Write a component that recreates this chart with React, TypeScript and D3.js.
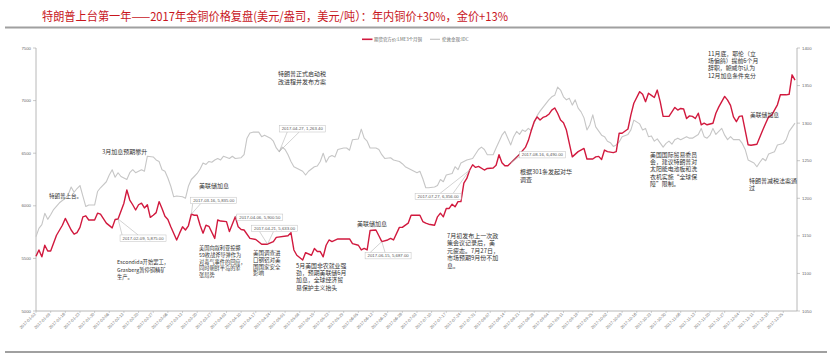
import React from "react";
import * as d3 from "d3";

const W = 831;
const H = 361;

const title = "特朗普上台第一年——2017年金铜价格复盘(美元/盎司，美元/吨）：年内铜价+30%，金价+13%";
const legendNames = ["期货官方价:LME3个月铜", "伦敦金现:IDC"];

// x: trading-day (weekday) index of 2017, 0 = 2017-01-02, 259 = 2017-12-29
const tickLabels = [
  "2017-01-02","2017-01-09","2017-01-16","2017-01-23","2017-01-30","2017-02-06","2017-02-13","2017-02-20","2017-02-27",
  "2017-03-06","2017-03-13","2017-03-20","2017-03-27","2017-04-03","2017-04-10","2017-04-17","2017-04-24","2017-05-01",
  "2017-05-08","2017-05-15","2017-05-22","2017-05-29","2017-06-05","2017-06-12","2017-06-19","2017-06-26","2017-07-03",
  "2017-07-10","2017-07-17","2017-07-24","2017-07-31","2017-08-07","2017-08-14","2017-08-21","2017-08-28","2017-09-04",
  "2017-09-11","2017-09-18","2017-09-25","2017-10-02","2017-10-09","2017-10-16","2017-10-23","2017-10-30","2017-11-06",
  "2017-11-13","2017-11-20","2017-11-27","2017-12-04","2017-12-11","2017-12-18","2017-12-25",
];
const leftTicks = [5000, 5500, 6000, 6500, 7000, 7500];
const rightTicks = [1050, 1100, 1150, 1200, 1250, 1300, 1350, 1400];

const copper: [number, number][] = [
  [0,5520],[1,5580],[2,5515],[3,5625],[4,5570],[5,5570],[7,5720],[9,5815],[10,5880],[12,5770],[13,5730],[14,5745],
  [15,5795],[16,5895],[17,5905],[18,5865],[20,5865],[21,5930],[22,5920],[24,5835],[26,5790],[27,5870],[28,5875],
  [30,6025],[31,6150],[32,6055],[33,6010],[34,5960],[35,6010],[36,6025],[37,5980],[38,6010],[39,5890],[40,5910],
  [41,5935],[42,6040],[43,5975],[44,5900],[45,5870],[46,5800],[48,5675],[49,5740],[50,5800],[51,5770],[52,5810],
  [53,5920],[54,5910],[55,5910],[56,5815],[57,5740],[58,5815],[59,5805],[61,5690],[62,5865],[63,5855],[65,5850],
  [66,5755],[68,5895],[69,5800],[70,5775],[71,5770],[73,5690],[75,5680],[77,5635],[79,5635],[81,5660],[82,5700],
  [86,5715],[87,5745],[88,5580],[89,5530],[91,5485],[92,5555],[94,5530],[95,5595],[96,5565],[97,5565],[98,5515],
  [99,5625],[100,5675],[101,5660],[103,5685],[107,5685],[108,5640],[110,5625],[111,5580],[112,5595],[113,5580],
  [114,5765],[116,5770],[117,5715],[118,5660],[120,5675],[121,5690],[122,5675],[124,5795],[125,5795],[127,5835],
  [128,5910],[131,5910],[132,5850],[133,5835],[134,5825],[136,5815],[137,5895],[138,5930],[139,5895],[140,5975],
  [141,5975],[142,6015],[143,5990],[144,6040],[145,6040],[146,6215],[147,6260],[148,6340],[149,6390],[150,6365],
  [151,6375],[153,6340],[154,6355],[156,6360],[157,6385],[158,6485],[159,6410],[160,6380],[161,6380],[163,6435],
  [165,6490],[167,6555],[168,6620],[169,6715],[170,6800],[171,6845],[172,6815],[173,6840],[174,6850],[175,6870],
  [176,6910],[177,6930],[178,6880],[179,6815],[180,6790],[181,6720],[183,6465],[185,6515],[187,6545],[188,6445],
  [190,6445],[191,6465],[192,6470],[193,6440],[194,6530],[195,6515],[197,6505],[198,6515],[199,6690],[200,6690],
  [202,6730],[203,6865],[204,6975],[206,7085],[207,7060],[208,6990],[209,7070],[210,7050],[211,7030],[212,7100],
  [213,6990],[214,6850],[216,6850],[218,6935],[219,6910],[220,6925],[221,6920],[222,6830],[223,6855],[224,6850],
  [225,6830],[226,6880],[227,6770],[228,6785],[229,6770],[231,6785],[232,6880],[233,6940],[235,7040],[236,7005],
  [237,6955],[238,6845],[239,6800],[240,6850],[241,6855],[243,6580],[244,6575],[246,6585],[248,6720],[249,6785],
  [250,6845],[251,6860],[253,6960],[254,7055],[256,7055],[257,7060],[258,7245],[259,7195],
];

const gold: [number, number][] = [
  [0,1149],[1,1160],[2,1165],[3,1180],[4,1172],[5,1178],[6,1185],[8,1194],[10,1200],[11,1205],[12,1215],[13,1208],
  [14,1213],[15,1217],[16,1203],[17,1189],[18,1191],[20,1191],[21,1209],[22,1214],[24,1222],[25,1231],[26,1238],
  [27,1228],[28,1234],[29,1229],[31,1225],[32,1234],[33,1238],[34,1234],[36,1238],[37,1236],[38,1256],[40,1255],
  [41,1251],[42,1249],[43,1238],[44,1236],[45,1227],[46,1216],[47,1202],[48,1203],[50,1202],[51,1200],[52,1216],
  [53,1225],[54,1229],[55,1233],[56,1239],[57,1247],[58,1245],[59,1249],[60,1248],[61,1251],[62,1253],[63,1251],
  [64,1256],[66,1253],[67,1256],[68,1253],[70,1254],[71,1258],[72,1280],[73,1287],[74,1288],[76,1288],[77,1282],
  [78,1284],[80,1280],[81,1276],[82,1267],[83,1262],[84,1268],[85,1265],[86,1258],[87,1249],[88,1242],[89,1240],
  [90,1238],[91,1236],[92,1231],[93,1236],[95,1242],[96,1243],[97,1249],[98,1260],[99,1248],[100,1255],[101,1257],
  [102,1255],[103,1265],[105,1267],[106,1267],[107,1264],[108,1278],[110,1279],[111,1292],[112,1280],[113,1276],
  [114,1267],[116,1267],[117,1265],[118,1258],[119,1253],[121,1254],[122,1251],[124,1249],[125,1246],[126,1242],
  [127,1240],[129,1236],[130,1234],[131,1236],[132,1226],[133,1214],[134,1214],[136,1215],[137,1217],[138,1225],
  [139,1222],[140,1231],[142,1233],[143,1242],[144,1238],[145,1247],[147,1251],[149,1253],[150,1259],[151,1265],
  [152,1268],[153,1265],[154,1258],[156,1258],[157,1267],[159,1284],[160,1289],[161,1280],[162,1271],[163,1282],
  [164,1289],[165,1285],[166,1291],[167,1289],[168,1293],[169,1290],[170,1300],[171,1310],[172,1316],[174,1326],
  [175,1331],[176,1335],[177,1337],[178,1348],[179,1344],[180,1335],[181,1331],[182,1333],[183,1324],[184,1331],
  [185,1320],[186,1315],[187,1307],[188,1291],[189,1298],[190,1311],[191,1295],[193,1284],[194,1282],[195,1276],
  [196,1274],[197,1269],[198,1271],[199,1275],[200,1282],[202,1285],[203,1291],[204,1304],[206,1299],[207,1291],
  [208,1293],[209,1282],[210,1283],[211,1276],[212,1279],[214,1268],[215,1273],[216,1276],[217,1272],[218,1278],
  [219,1280],[220,1278],[222,1282],[223,1280],[224,1280],[226,1285],[227,1293],[228,1282],[229,1280],[230,1284],
  [231,1293],[232,1285],[233,1289],[234,1293],[235,1284],[236,1278],[237,1282],[238,1278],[240,1278],[241,1273],
  [242,1265],[243,1251],[245,1247],[246,1242],[247,1248],[248,1253],[249,1250],[250,1259],[252,1262],[253,1271],
  [255,1273],[256,1278],[257,1289],[259,1300],
];

// data callouts: trading-day index, series, label
const callouts = [
  { day: 28, s: "copper", label: "2017-02-09, 5,875.00", dx: 2, dy: 16, side: "top", a1: 2, a2: 18 },
  { day: 53, s: "copper", label: "2017-03-16, 5,835.00", dx: -0.6, dy: -17, side: "bottom", a1: 2, a2: 10 },
  { day: 68, s: "copper", label: "2017-04-06, 5,900.50", dx: 1.5, dy: -2.8, side: "left", a1: 1, a2: 5 },
  { day: 79, s: "copper", label: "2017-04-21, 5,633.00", dx: -16, dy: -19, side: "bottom", a1: 8, a2: 22 },
  { day: 83, s: "gold", label: "2017-04-27, 1,263.40", dx: 0, dy: -26, side: "bottom", a1: 8, a2: 20 },
  { day: 118, s: "copper", label: "2017-06-15, 5,687.00", dx: -16.7, dy: 11, side: "top", a1: 5, a2: 20 },
  { day: 148, s: "copper", label: "2017-07-27, 6,356.00", dx: -54.6, dy: 23.3, side: "top", a1: 25, a2: 38 },
  { day: 162, s: "copper", label: "2017-08-16, 6,490.00", dx: 8.6, dy: -11.3, side: "left", a1: 2, a2: 5 },
];

const notes = [
  { lines: ["特朗普上台。"], x: 49, y: 196, lh: 7.3, fs: 5.5 },
  { lines: ["3月加息预期攀升"], x: 102, y: 151, lh: 7.3, fs: 6 },
  { lines: ["美联储加息"], x: 199, y: 185, lh: 7.3, fs: 6 },
  { lines: ["特朗普正式启动税", "改进程并发布方案"], x: 278, y: 73.7, lh: 7.6, fs: 6 },
  { lines: ["Escondida开始罢工，", "Grasberg暂停铜精矿", "生产。"], x: 117, y: 262, lh: 7.6, fs: 5.3 },
  { lines: ["美国向叙利亚投掷", "59枚战斧导弹作为", "对毒气事件的回应，", "同时朝鲜半岛的紧", "张局势"], x: 199, y: 247.7, lh: 6.7, fs: 5.2 },
  { lines: ["美国调查进", "口钢铝对美", "国国家安全", "影响"], x: 253, y: 253.3, lh: 6.7, fs: 5.5 },
  { lines: ["5月美国非农就业强", "劲，预期美联储6月", "加息，全球经济贸", "易保护主义抬头"], x: 296, y: 265, lh: 7.4, fs: 5.9 },
  { lines: ["美联储加息"], x: 357, y: 223, lh: 7.3, fs: 6 },
  { lines: ["7月初发布上一次政", "策会议记录后，美", "元疲态。7月27日，", "市场预期9月份不加", "息。"], x: 447, y: 235, lh: 7.5, fs: 6 },
  { lines: ["根据301条发起对华", "调查"], x: 520, y: 171.7, lh: 7.6, fs: 6 },
  { lines: ["美国国际贸易委员", "会，建议特朗普对", "太阳能电池板和洗", "衣机实施“全球保", "障”限制。"], x: 650, y: 154, lh: 7.4, fs: 5.9 },
  { lines: ["11月底，耶伦（立", "场偏鸽）提前6个月", "辞职，鲍威尔认为", "12月加息条件充分"], x: 708, y: 53, lh: 7.4, fs: 5.9 },
  { lines: ["美联储加息"], x: 750, y: 114, lh: 7.3, fs: 5.8 },
  { lines: ["特朗普减税法案通", "过"], x: 749, y: 180, lh: 7.6, fs: 6 },
];

const RED = "#d1193e";
const GRAY_LINE = "#c6c6c6";
const AXIS = "#a6a6a6";
const CJK = "'Noto Sans CJK SC', sans-serif";
const LAT = "'Liberation Sans', Arial, sans-serif";

export default function App() {
  const x = d3.scaleLinear().domain([0, 259]).range([36, 795]);
  const yL = d3.scaleLinear().domain([5000, 7500]).range([311, 48]);
  const yR = d3.scaleLinear().domain([1050, 1400]).range([311, 48]);

  const copperPath = d3.line<[number, number]>().x((d) => x(d[0])).y((d) => yL(d[1]))(copper) || "";
  const goldPath = d3.line<[number, number]>().x((d) => x(d[0])).y((d) => yR(d[1]))(gold) || "";

  const valueAt = (arr: [number, number][], day: number) => {
    const i = arr.findIndex((d) => d[0] >= day);
    if (i <= 0) return arr[0][1];
    const a = arr[i - 1], b = arr[i];
    if (b[0] === day) return b[1];
    return a[1] + ((b[1] - a[1]) * (day - a[0])) / (b[0] - a[0]);
  };

  const boxW = 46;
  const boxH = 6.3;

  return (
    <svg width={W} height={H} style={{ position: "absolute", left: 0, top: 0, background: "#fff" }}>
      <rect x={0} y={0} width={W} height={H} fill="#fff" />
      {/* title */}
      <text x={42} y={21} fontFamily={CJK} fontSize={12} fill="#c8161d" textLength={466} lengthAdjust="spacingAndGlyphs">
        {title}
      </text>
      <line x1={5} x2={830} y1={27.5} y2={27.5} stroke="#a0a0a0" strokeWidth={2} />
      <line x1={5} x2={827} y1={352} y2={352} stroke="#a0a0a0" strokeWidth={2} />

      {/* legend */}
      <line x1={362} x2={372.5} y1={39.3} y2={39.3} stroke={RED} strokeWidth={1.6} />
      <text x={374} y={39.3} dominantBaseline="central" fontFamily={CJK} fontSize={4.3} fill="#666" textLength={48} lengthAdjust="spacingAndGlyphs">
        {legendNames[0]}
      </text>
      <line x1={430} x2={440} y1={39.3} y2={39.3} stroke={GRAY_LINE} strokeWidth={1.2} />
      <text x={442} y={39.3} dominantBaseline="central" fontFamily={CJK} fontSize={4.3} fill="#666" textLength={26.5} lengthAdjust="spacingAndGlyphs">
        {legendNames[1]}
      </text>

      {/* axes */}
      <line x1={36} x2={36} y1={48} y2={311} stroke={AXIS} strokeWidth={0.8} />
      <line x1={797} x2={797} y1={48} y2={311} stroke={AXIS} strokeWidth={0.8} />
      <line x1={36} x2={797} y1={311} y2={311} stroke={AXIS} strokeWidth={0.8} />
      {leftTicks.map((t) => (
        <g key={"l" + t}>
          <line x1={33} x2={36} y1={yL(t)} y2={yL(t)} stroke={AXIS} strokeWidth={0.6} />
          <text x={31} y={yL(t)} textAnchor="end" dominantBaseline="central" fontFamily={LAT} fontSize={4.3} fill="#666">
            {t}
          </text>
        </g>
      ))}
      {rightTicks.map((t) => (
        <g key={"r" + t}>
          <line x1={797} x2={800} y1={yR(t)} y2={yR(t)} stroke={AXIS} strokeWidth={0.6} />
          <text x={802} y={yR(t)} dominantBaseline="central" fontFamily={LAT} fontSize={4.3} fill="#666">
            {t}
          </text>
        </g>
      ))}
      {tickLabels.map((lab, i) => {
        const tx = x(i * 5);
        return (
          <g key={lab}>
            <line x1={tx} x2={tx} y1={311} y2={313} stroke={AXIS} strokeWidth={0.5} />
            <text
              x={tx}
              y={314.5}
              textAnchor="end"
              fontFamily={LAT}
              fontSize={4.1}
              fill="#777"
              transform={`rotate(-45 ${tx} ${314.5})`}
            >
              {lab}
            </text>
          </g>
        );
      })}

      {/* series */}
      <path d={goldPath} fill="none" stroke={GRAY_LINE} strokeWidth={1.1} strokeLinejoin="round" />
      <path d={copperPath} fill="none" stroke={RED} strokeWidth={1.4} strokeLinejoin="round" />

      {/* callouts */}
      {callouts.map((c) => {
        const arr = c.s === "copper" ? copper : gold;
        const ys = c.s === "copper" ? yL : yR;
        const px = x(c.day);
        const py = ys(valueAt(arr, c.day));
        const bx = px + c.dx;
        const by = py + c.dy;
        let p1: [number, number], p2: [number, number];
        if (c.side === "top") { p1 = [bx + c.a1, by]; p2 = [bx + c.a2, by]; }
        else if (c.side === "bottom") { p1 = [bx + c.a1, by + boxH]; p2 = [bx + c.a2, by + boxH]; }
        else { p1 = [bx, by + c.a1]; p2 = [bx, by + c.a2]; }
        return (
          <g key={c.label}>
            <path d={`M${p1[0]},${p1[1]}L${px},${py}L${p2[0]},${p2[1]}`} fill="none" stroke="#a6a6a6" strokeWidth={0.5} />
            <rect x={bx} y={by} width={boxW} height={boxH} fill="#fff" stroke="#bfbfbf" strokeWidth={0.5} />
            <text x={bx + 2.5} y={by + boxH / 2} dominantBaseline="central" fontFamily={LAT} fontSize={4.3} fill="#555">
              {c.label}
            </text>
          </g>
        );
      })}

      {/* annotations */}
      {notes.map((n, k) => (
        <g key={k}>
          {n.lines.map((ln, j) => (
            <text key={j} x={n.x} y={n.y + j * n.lh} dominantBaseline="central" fontFamily={CJK} fontSize={n.fs} fill="#333">
              {ln}
            </text>
          ))}
        </g>
      ))}
    </svg>
  );
}
